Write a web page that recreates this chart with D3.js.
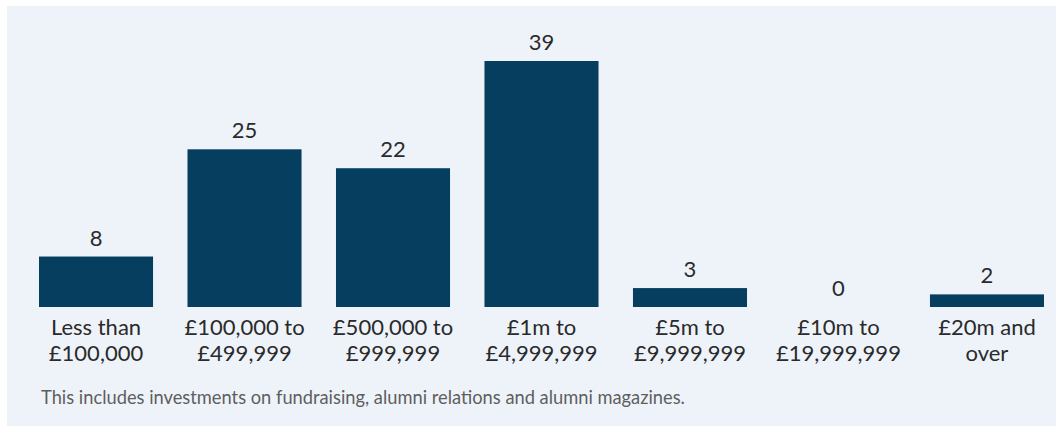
<!DOCTYPE html>
<html>
<head>
<meta charset="utf-8">
<script src="https://cdn.jsdelivr.net/npm/d3@7"></script>
<style>
  body { margin: 0; background: #fff; }
  text { font-family: Lato, "Open Sans", sans-serif; }
</style>
</head>
<body>
<script>
// data
var categories = [
    ["Less than", "£100,000"],
    ["£100,000 to", "£499,999"],
    ["£500,000 to", "£999,999"],
    ["£1m to", "£4,999,999"],
    ["£5m to", "£9,999,999"],
    ["£10m to", "£19,999,999"],
    ["£20m and", "over"]
];
var values = [8, 25, 22, 39, 3, 0, 2];
var footnote = "This includes investments on fundraising, alumni relations and alumni magazines.";

var W = 1061, H = 426;

var svg = d3.select("body").append("svg")
    .attr("width", W)
    .attr("height", H);

// panel
svg.append("rect")
    .attr("x", 7).attr("y", 6)
    .attr("width", 1049).attr("height", 420)
    .attr("fill", "#eef3fa");

var x = d3.scaleBand()
    .domain(d3.range(values.length))
    .range([39, 1044])
    .paddingInner(0.232)
    .paddingOuter(0);

var baseline = 307;
var y = d3.scaleLinear()
    .domain([0, 39])
    .range([baseline, 61]);

// bars
svg.selectAll(".bar")
    .data(values)
    .enter()
    .append("rect")
        .attr("class", "bar")
        .attr("x", function(d, i) { return x(i); })
        .attr("y", function(d) { return y(d); })
        .attr("width", x.bandwidth())
        .attr("height", function(d) { return baseline - y(d); })
        .attr("fill", "#053e5e");

// value labels
svg.selectAll(".val")
    .data(values)
    .enter()
    .append("text")
        .attr("class", "val")
        .attr("x", function(d, i) { return x(i) + x.bandwidth() / 2; })
        .attr("y", function(d) { return y(d) - 11; })
        .attr("text-anchor", "middle")
        .attr("font-size", 22)
        .attr("fill", "#2a2a2a")
        .text(function(d) { return d; });

// category labels
var cat = svg.selectAll(".cat")
    .data(categories)
    .enter()
    .append("text")
        .attr("class", "cat")
        .attr("text-anchor", "middle")
        .attr("font-size", 22)
        .attr("fill", "#2a2a2a");

cat.selectAll("tspan")
    .data(function(d, i) { return d.map(function(s) { return {s: s, i: i}; }); })
    .enter()
    .append("tspan")
        .attr("x", function(d) { return x(d.i) + x.bandwidth() / 2; })
        .attr("y", function(d, j) { return 335 + j * 25.5; })
        .text(function(d) { return d.s; });

// footnote
svg.append("text")
    .attr("x", 41)
    .attr("y", 404)
    .attr("font-size", 18.3)
    .attr("fill", "#5e5e5e")
    .text(footnote);
</script>
</body>
</html>
